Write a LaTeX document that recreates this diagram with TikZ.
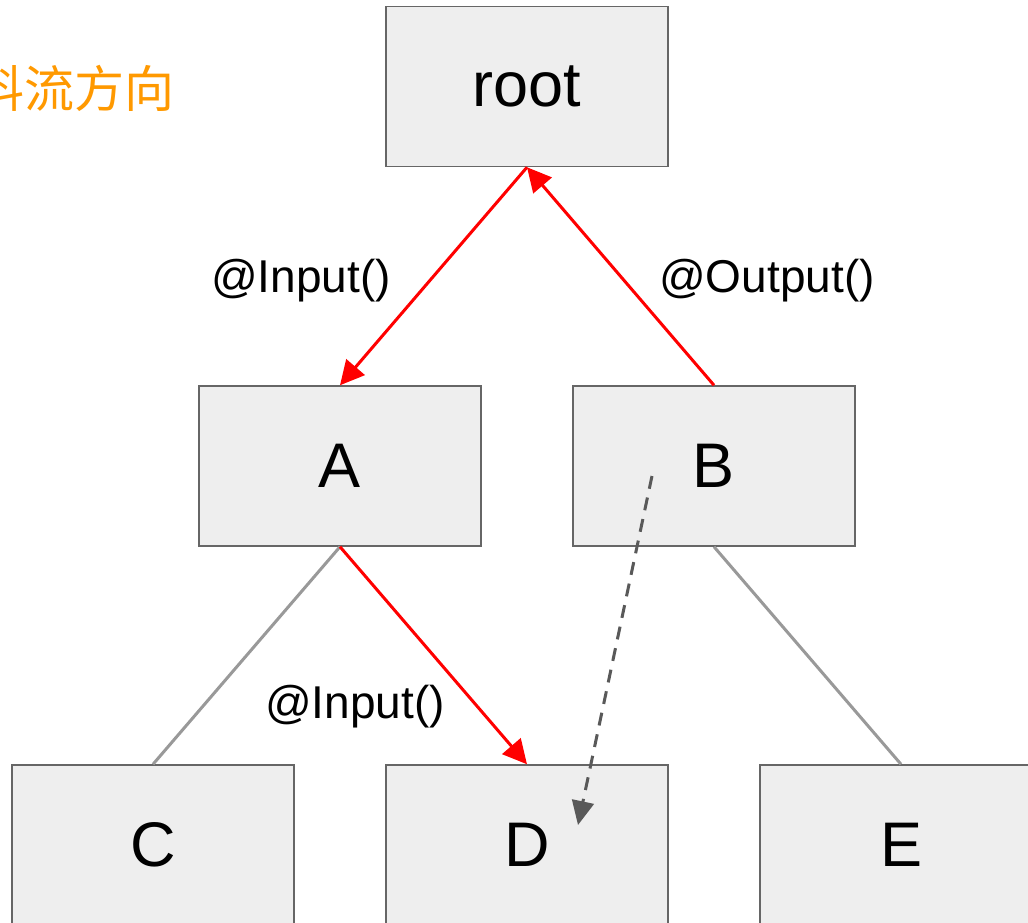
\documentclass[tikz,border=0pt]{standalone}
\usepackage{fontspec}
\setmainfont{Liberation Sans}
\newfontfamily\cjk{Noto Sans CJK SC}
\usetikzlibrary{arrows.meta}
\definecolor{boxfill}{HTML}{EEEEEE}
\definecolor{boxline}{HTML}{666666}
\definecolor{treeline}{HTML}{999999}
\definecolor{hintline}{HTML}{595959}
\definecolor{flowred}{HTML}{FF0000}
\definecolor{flowtext}{HTML}{FF9900}
\tikzset{
  treebox/.style={draw=boxline, fill=boxfill, line width=1.5pt, minimum width=282pt, minimum height=160pt, inner sep=0pt, font=\fontsize{63}{70}\selectfont},
  flowedge/.style={draw=flowred, line width=3pt, -{Triangle[length=24pt,width=24pt]}},
  treeedge/.style={draw=treeline, line width=3pt},
  hintedge/.style={draw=hintline, line width=3pt, dash pattern=on 13pt off 9pt, -{Triangle[length=24pt,width=22pt]}},
  edgelabel/.style={inner sep=0pt, font=\fontsize{46}{50}\selectfont}
}
\begin{document}
\begin{tikzpicture}[x=1pt,y=-1pt]
\useasboundingbox (0,0) rectangle (1028,922);
\clip (0,0) rectangle (1028,922);
\fill[white] (0,0) rectangle (1028,922);
% Drawing boxes
\node[treebox] (root) at (527,86.5) {root};
\node[treebox] (A) at (340,466) {A};
\node[treebox] (B) at (714,466) {B};
\node[treebox] (C) at (153,845) {C};
\node[treebox] (D) at (527,845) {D};
\node[treebox] (E) at (901,845) {E};
% Done with boxes; drawing edges
\draw[treeedge] (A.south) -- (C.north);
\draw[treeedge] (B.south) -- (E.north);
\draw[flowedge] (root.south) -- (A.north);
\draw[flowedge] (B.north) -- (root.south);
\draw[flowedge] (A.south) -- (D.north);
\coordinate (hintfrom) at (652,476);
\coordinate (hintto) at (578,825);
\draw[hintedge] (hintfrom) -- (hintto);
% Done with edges; drawing labels
\node[edgelabel] (inroot) at (301,281) {@Input()};
\node[edgelabel] (outroot) at (767,281) {@Output()};
\node[edgelabel] (ind) at (355,707) {@Input()};
\node[anchor=east, inner sep=0pt, text=flowtext, font=\cjk\fontsize{50}{54}\selectfont] (flow) at (175,88) {料流方向};
\end{tikzpicture}
\end{document}
